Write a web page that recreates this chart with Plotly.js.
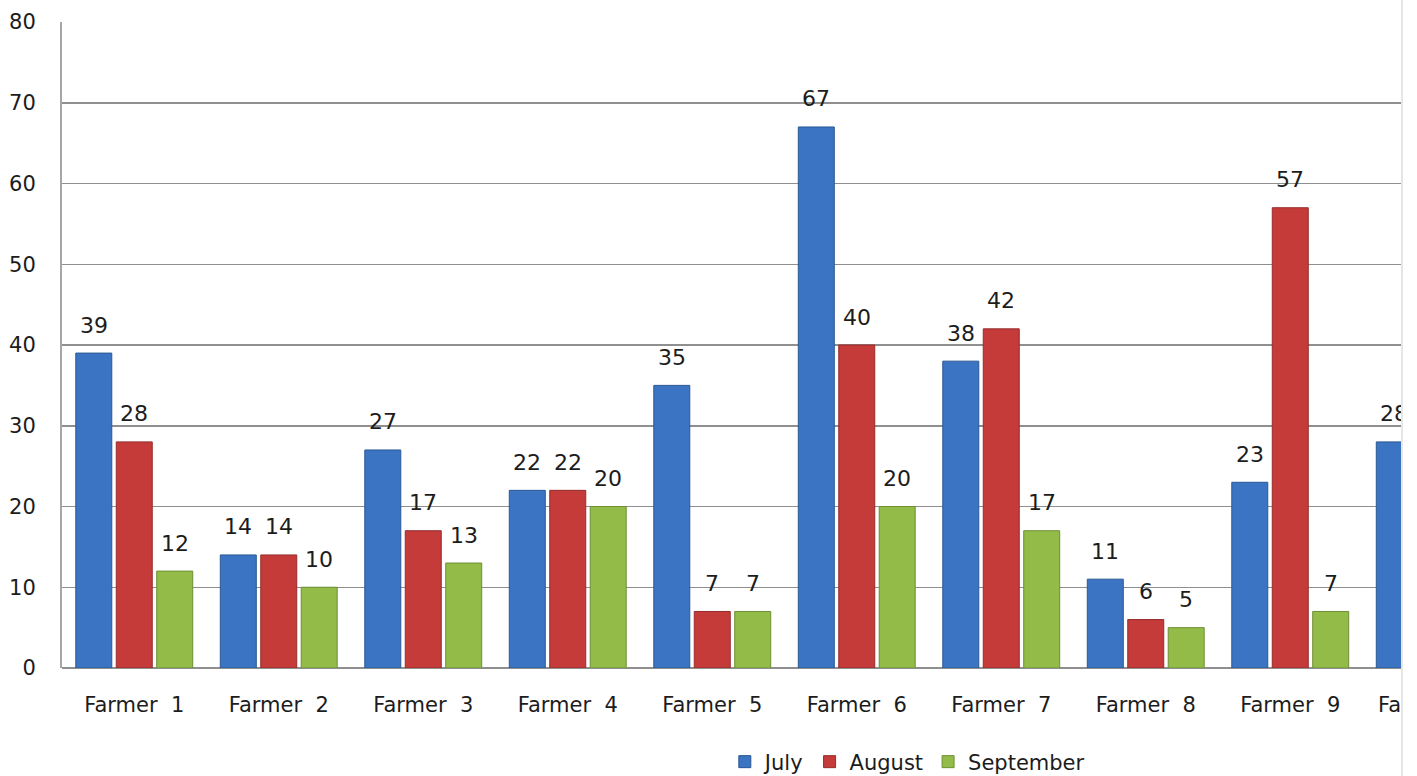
<!DOCTYPE html>
<html>
<head>
<meta charset="utf-8">
<script src="https://cdn.plot.ly/plotly-3.0.1.min.js"></script>
<style>
  html, body { margin: 0; padding: 0; background: #ffffff; }
  #wrap { width: 1401px; height: 776px; overflow: hidden; border-right: 2px solid #e6e6e6; position: relative; }
  #chart { width: 1517px; height: 776px; }
</style>
</head>
<body>
<div id="wrap"><div id="chart"></div></div>
<script>
// Data (Farmer 10 is cut off at the right edge)
const categories = ["Farmer 1", "Farmer 2", "Farmer 3", "Farmer 4", "Farmer 5",
                    "Farmer 6", "Farmer 7", "Farmer 8", "Farmer 9", "Farmer 10"];
const july      = [39, 14, 27, 22, 35, 67, 38, 11, 23, 28];
const august    = [28, 14, 17, 22, 7, 40, 42, 6, 57, null];
const september = [12, 10, 13, 20, 7, 20, 17, 5, 7, null];
const seriesNames = ["July", "August", "September"];
const yTicks = [0, 10, 20, 30, 40, 50, 60, 70, 80];

const seriesValues = [july, august, september];
const fills = ["#3a74c2", "#c43b3a", "#92bb47"];
const edges = ["#2b5894", "#952c2c", "#6e8f33"];
const FONT = "DejaVu Sans, Verdana, sans-serif";
const TXT = "#1c1c1c";

const traces = seriesValues.map((vals, i) => ({
  type: "bar",
  name: seriesNames[i],
  x: categories,
  y: vals,
  marker: { color: fills[i], line: { color: edges[i], width: 1 } },
  hoverinfo: "x+y+name"
}));

// value labels placed above each bar
const nSeries = seriesValues.length;
const slotPx = 144.5 * 0.84 / nSeries;
const annotations = [];
seriesValues.forEach((vals, i) => {
  vals.forEach((v, j) => {
    if (v === null) return;
    annotations.push({
      x: categories[j], y: v, xref: "x", yref: "y",
      text: String(v), showarrow: false,
      xshift: (i - (nSeries - 1) / 2) * slotPx,
      yshift: 28, yanchor: "middle",
      font: { family: FONT, size: 22, color: TXT }
    });
  });
});

const layout = {
  width: 1517, height: 776,
  margin: { l: 62, r: 10, t: 22, b: 108, autoexpand: false },
  paper_bgcolor: "#ffffff", plot_bgcolor: "#ffffff",
  barmode: "group", bargap: 0.16, bargroupgap: 0.11,
  font: { family: FONT, size: 21, color: TXT },
  xaxis: {
    type: "category", range: [-0.5, 9.5],
    tickvals: categories,
    ticktext: categories.map(c => c.replace(" ", "\u00a0\u00a0")),
    showgrid: false, showline: false, zeroline: false, ticks: "",
    tickfont: { family: FONT, size: 21, color: TXT },
    ticklabelstandoff: 22, fixedrange: true
  },
  yaxis: {
    range: [0, 80], tickvals: yTicks, ticktext: yTicks.map(String),
    showgrid: true, gridcolor: "#8f8f8f", gridwidth: 1.5,
    showline: true, linecolor: "#a6a6a6", linewidth: 2,
    zeroline: true, zerolinecolor: "#8f8f8f", zerolinewidth: 1.5,
    ticks: "", ticklabelstandoff: 20,
    tickfont: { family: FONT, size: 21, color: TXT }, fixedrange: true
  },
  showlegend: true,
  legend: {
    orientation: "h", x: 0.585, xanchor: "center", y: -0.1455, yanchor: "middle",
    font: { family: FONT, size: 21, color: TXT }, traceorder: "normal",
    itemwidth: 30
  },
  annotations: annotations
};

Plotly.newPlot("chart", traces, layout, { displayModeBar: false, staticPlot: true });
</script>
</body>
</html>
